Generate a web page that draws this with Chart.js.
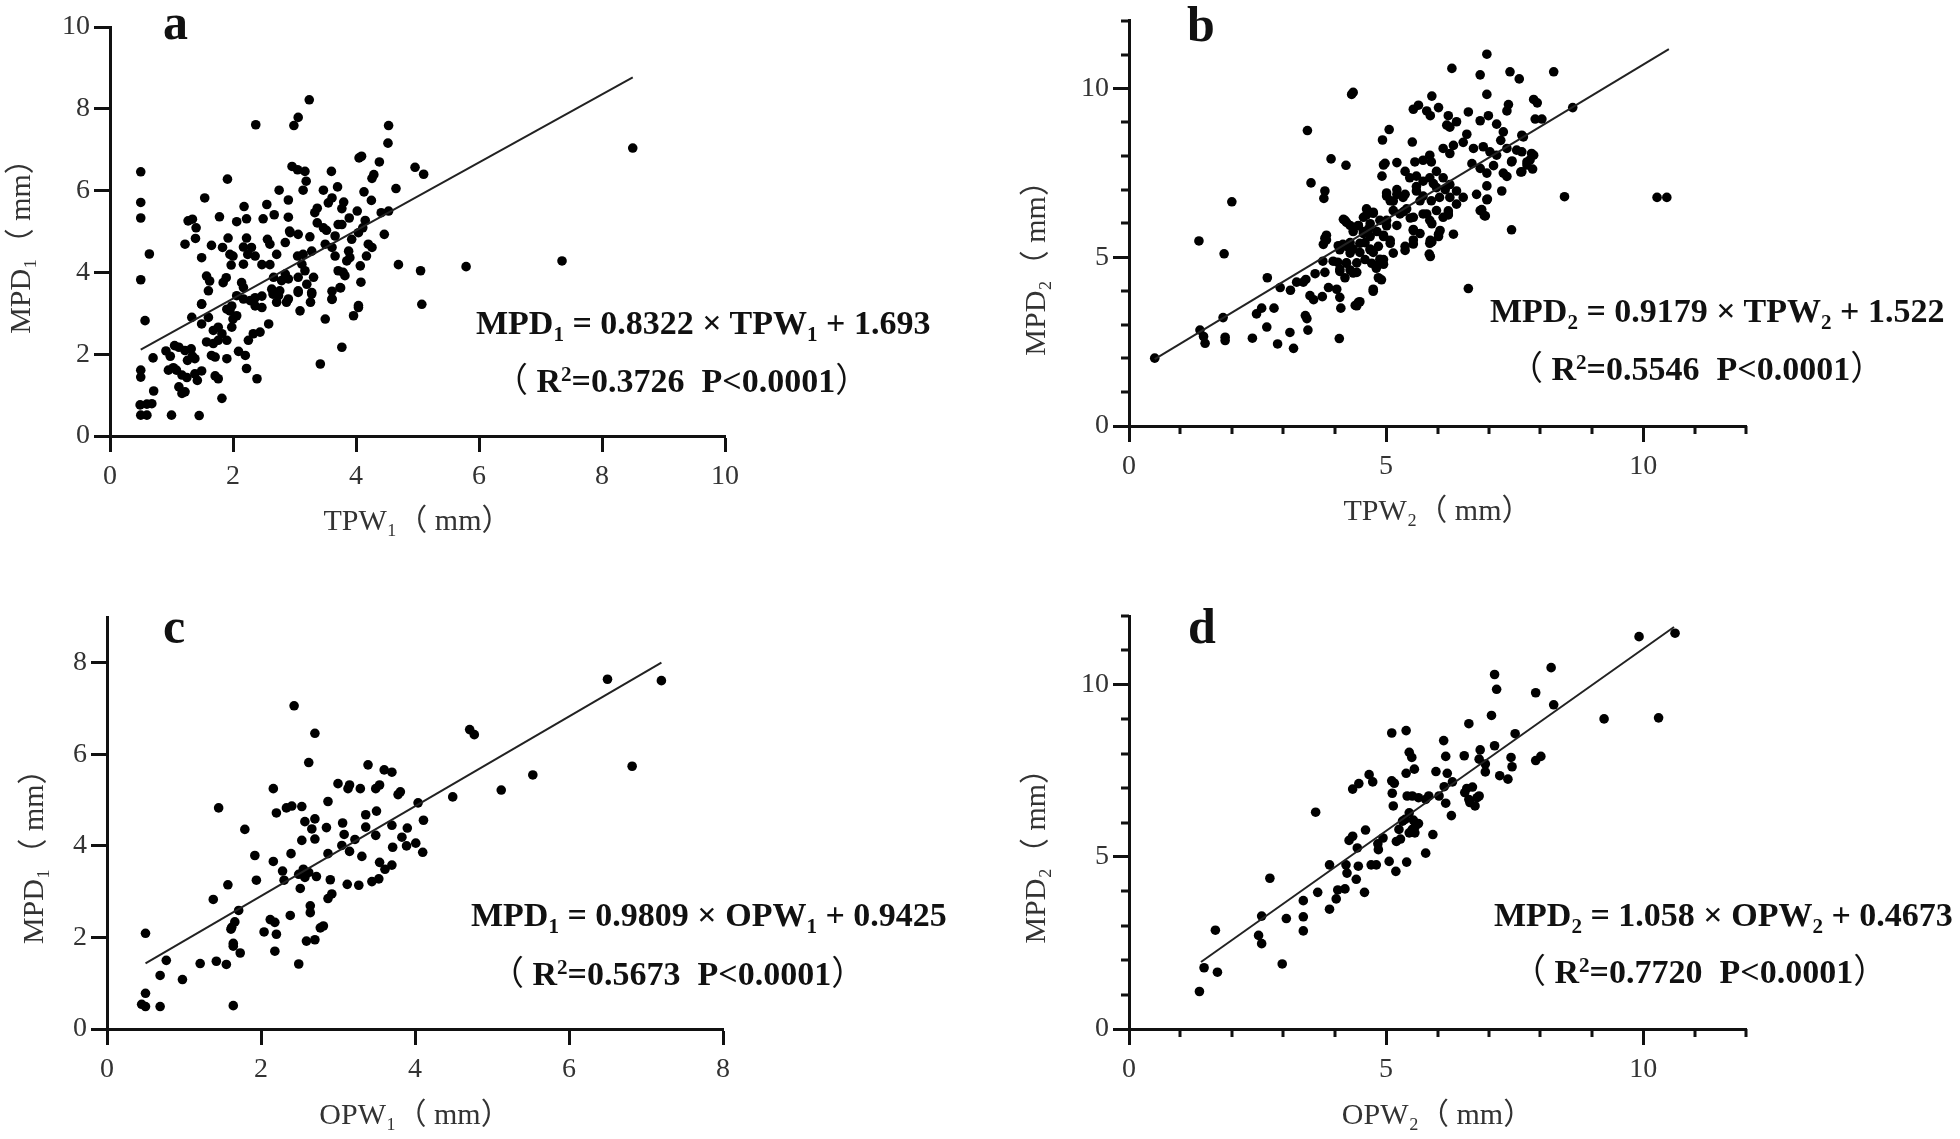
<!DOCTYPE html>
<html>
<head>
<meta charset="utf-8">
<script src="https://cdn.jsdelivr.net/npm/chart.js@4.4.1/dist/chart.umd.min.js"></script>
<style>
  body { margin: 0; background: #fff; }
  #page { position: relative; width: 1960px; height: 1139px; overflow: hidden; background: #fff; }
  .box { position: absolute; }
  .letter { position: absolute; font: bold 50px "Liberation Serif", serif; line-height: 50px; color: #111; }
  .eq { position: absolute; font: bold 34px "Liberation Serif", serif; line-height: 34px; white-space: nowrap; color: #111; }
  .eq sub, .eq sup { font-size: 0.62em; line-height: 0; }
  .eq sub { vertical-align: -7px; }
  .eq sup { vertical-align: 11px; }
  .eq .p { font-family: "Noto Sans CJK SC", sans-serif; font-weight: normal; line-height: 0; }
</style>
</head>
<body>
<div id="page">
  <div class="box" style="left:0;top:0;width:770px;height:560px"><canvas id="chartA" width="770" height="560"></canvas></div>
  <div class="box" style="left:1000px;top:0;width:790px;height:560px"><canvas id="chartB" width="790" height="560"></canvas></div>
  <div class="box" style="left:0;top:580px;width:770px;height:559px"><canvas id="chartC" width="770" height="559"></canvas></div>
  <div class="box" style="left:1000px;top:580px;width:790px;height:559px"><canvas id="chartD" width="790" height="559"></canvas></div>

  <div class="letter" style="left:163px;top:-3px">a</div>
  <div class="letter" style="left:1187px;top:-1px">b</div>
  <div class="letter" style="left:163px;top:601px">c</div>
  <div class="letter" style="left:1188px;top:601px">d</div>

  <div class="eq" style="left:476px;top:306px">MPD<sub>1</sub> = 0.8322 × TPW<sub>1</sub> + 1.693</div>
  <div class="eq" style="left:494px;top:364px"><span class="p">（</span> R<sup>2</sup>=0.3726&nbsp;&nbsp;P&lt;0.0001<span class="p">）</span></div>

  <div class="eq" style="left:1490px;top:294px">MPD<sub>2</sub> = 0.9179 × TPW<sub>2</sub> + 1.522</div>
  <div class="eq" style="left:1509px;top:352px"><span class="p">（</span> R<sup>2</sup>=0.5546&nbsp;&nbsp;P&lt;0.0001<span class="p">）</span></div>

  <div class="eq" style="left:471px;top:898px">MPD<sub>1</sub> = 0.9809 × OPW<sub>1</sub> + 0.9425</div>
  <div class="eq" style="left:490px;top:957px"><span class="p">（</span> R<sup>2</sup>=0.5673&nbsp;&nbsp;P&lt;0.0001<span class="p">）</span></div>

  <div class="eq" style="left:1494px;top:898px">MPD<sub>2</sub> = 1.058 × OPW<sub>2</sub> + 0.4673</div>
  <div class="eq" style="left:1512px;top:955px"><span class="p">（</span> R<sup>2</sup>=0.7720&nbsp;&nbsp;P&lt;0.0001<span class="p">）</span></div>
</div>

<script>
// TPW1 vs MPD1
const pointsA = [
  [3.24,8.22],[3.06,7.79],[2.99,7.59],[2.37,7.61],[4.53,7.59],[4.52,7.16],
  [0.50,6.46],[0.50,5.71],[0.50,5.33],[0.64,4.45],[0.50,3.82],
  [1.91,6.28],[1.54,5.82],[2.96,6.59],[3.05,6.51],[3.17,6.47],[3.19,6.23],[3.14,6.01],[2.75,6.01],[2.90,5.77],
  [3.60,6.47],[3.47,6.01],[3.70,6.09],[4.05,6.80],[4.09,6.84],[4.38,6.70],[4.29,6.39],[4.26,6.30],[4.13,5.97],[4.25,5.76],[4.65,6.05],[4.96,6.57],[5.10,6.40],
  [3.61,5.82],[3.55,5.70],[3.80,5.72],[3.77,5.56],[3.37,5.57],[3.33,5.46],[4.02,5.50],[3.89,5.33],[3.71,5.17],[3.77,5.17],[4.15,5.27],[4.41,5.46],[4.53,5.50],[4.46,4.93],
  [3.37,5.21],[3.47,5.09],[3.52,5.03],[4.11,5.09],[4.04,4.97],[3.93,4.81],[3.66,4.89],[3.25,4.87],
  [2.90,5.35],[2.92,5.01],[3.06,4.93],[2.67,5.41],[2.55,5.66],[2.49,5.31],[2.22,5.31],[2.18,5.61],[2.06,5.24],[1.78,5.36],
  [1.27,5.26],[1.34,5.30],[1.40,5.09],[1.39,4.83],[1.22,4.69],[1.65,4.66],[1.49,4.36],[1.92,4.84],[1.83,4.61],[1.95,4.44],[2.00,4.40],
  [2.22,4.84],[2.17,4.62],[2.30,4.61],[2.24,4.44],[2.36,4.40],[2.17,4.20],[1.97,4.18],[2.56,4.81],[2.60,4.69],
  [2.47,4.19],[2.60,4.19],[2.71,4.44],[2.85,4.73],[2.93,4.97],[3.05,4.40],[3.14,4.44],[3.28,4.52],[3.12,4.20],[3.17,4.04],[3.31,3.88],
  [3.50,4.69],[3.61,4.61],[3.66,4.40],[3.88,4.52],[3.85,4.28],[3.90,4.36],[4.07,4.16],[4.20,4.69],[4.26,4.61],[4.17,4.40],[4.69,4.19],[5.05,4.04],[4.08,3.76],
  [3.71,4.04],[3.79,4.00],[3.82,3.92],[3.75,3.62],[3.61,3.54],[3.61,3.34],
  [1.57,3.91],[1.62,3.79],[1.60,3.55],[1.84,3.75],[1.89,3.87],[2.14,3.75],[2.17,3.63],[1.49,3.22],
  [2.85,3.96],[2.90,3.84],[2.79,3.80],[3.06,3.88],[3.06,3.55],[3.20,3.71],[3.28,3.51],[2.66,3.88],[2.63,3.59],[2.74,3.43],[2.87,3.27],[2.36,3.38],[2.47,3.42],[3.26,3.27],[4.04,3.19],[5.07,3.22],
  [0.57,2.82],[0.50,1.61],[0.50,1.44],[0.70,1.91],[0.71,1.10],[0.49,0.76],[0.60,0.78],[0.68,0.79],[0.50,0.51],[0.60,0.51],[1.00,0.51],[1.45,0.50],[1.82,0.92],
  [0.91,2.08],[0.98,1.95],[1.05,2.21],[1.12,2.17],[1.22,2.09],[1.32,2.13],[1.34,1.95],
  [0.95,1.61],[1.03,1.67],[1.08,1.61],[1.17,1.49],[1.25,1.43],[1.12,1.20],[1.17,1.04],[1.22,1.08],
  [1.38,1.52],[1.42,1.36],[1.49,1.59],[1.26,1.85],[1.38,1.89],[1.71,1.47],[1.76,1.40],
  [1.57,2.30],[1.68,2.26],[1.71,1.93],[1.90,1.89],[1.65,1.97],
  [1.68,2.58],[1.76,2.66],[1.82,2.50],[1.90,2.34],[1.76,2.34],[1.49,2.74],[1.60,2.90],[1.33,2.90],[1.49,3.23],
  [1.98,2.66],[2.00,2.86],[2.06,2.94],[1.90,3.10],[1.95,3.06],[1.98,3.18],[2.09,2.07],[2.20,1.97],[2.22,1.65],[2.39,1.40],
  [2.25,2.34],[2.33,2.50],[2.44,2.54],[2.58,2.74],[2.06,3.43],[2.17,3.35],[2.28,3.31],[2.36,3.18],[2.47,3.14],
  [2.65,3.47],[2.76,3.55],[2.90,3.35],[2.71,3.27],[3.09,3.06],[3.28,3.47],[3.06,3.51],[3.50,2.86],[3.61,3.35],[3.74,3.63],[3.42,1.76],[3.77,2.17],[3.96,2.94],[4.04,3.14],
  [8.50,7.04],[7.35,4.28],[5.79,4.14]
];
// TPW2 vs MPD2
const pointsB = [
  [0.50,2.01],[1.36,5.48],[2.00,6.64],[1.85,5.10],[1.38,2.84],[1.45,2.65],[1.48,2.45],[1.83,3.21],[1.87,2.63],[1.87,2.53],
  [2.40,2.60],[2.68,2.93],[2.89,2.43],[3.20,2.30],[3.13,2.77],[3.48,2.84],[3.43,3.27],[3.46,3.18],[2.48,3.32],[2.58,3.49],[2.82,3.49],
  [2.69,4.39],[2.94,4.10],[3.14,4.02],[3.26,4.26],[3.44,4.34],[3.62,4.51],[3.52,3.86],[3.59,3.74],[3.76,3.83],[3.88,4.10],[4.04,4.05],
  [4.10,3.81],[4.12,3.49],[4.09,2.59],[4.10,4.58],[4.36,4.53],[4.20,4.39],[4.40,3.57],[4.49,3.68],[4.75,3.99],[4.85,4.39],
  [4.75,4.05],[4.46,3.66],[4.43,3.56],[3.39,4.26],[3.81,4.55],[4.43,4.55],[4.91,4.33],
  [3.77,4.88],[4.06,4.85],[3.81,5.56],[3.84,5.65],[4.23,4.82],[4.30,4.62],[4.81,4.67],[4.88,4.82],[4.72,4.82],
  [4.07,5.34],[4.16,5.38],[4.30,5.43],[4.36,5.24],[4.49,5.14],[4.59,5.43],[4.69,5.24],[4.17,6.12],[4.23,6.03],[4.46,5.93],[4.62,6.25],[4.75,6.30],
  [4.36,5.76],[4.56,5.76],[4.66,5.84],[4.82,5.76],[4.95,5.65],[4.75,5.14],[4.88,4.94],[4.95,4.79],
  [5.01,6.90],[5.21,7.00],[5.14,6.66],[5.37,6.86],[5.01,5.93],[5.08,5.50],[5.34,6.35],[5.47,6.16],[5.53,5.82],[5.37,5.20],[5.53,5.39],
  [5.66,6.67],[5.79,6.28],[5.89,5.99],[6.05,5.79],[5.86,5.50],[5.84,5.09],[5.59,7.09],[5.92,7.18],[6.15,7.00],[6.21,6.37],
  [6.96,11.01],[6.28,10.59],[6.83,10.40],[7.41,10.49],[7.59,10.28],[4.33,9.82],[4.36,9.88],[5.89,9.77],[6.96,9.82],[7.87,9.67],[7.94,9.57],[3.47,8.75],[5.06,8.78],
  [5.53,9.38],[5.63,9.50],[5.79,9.33],[5.86,9.19],[6.02,9.43],[6.21,9.19],[6.37,9.01],[6.18,8.91],[6.24,8.85],[6.60,9.30],[6.83,9.04],[6.99,9.19],[7.15,8.94],[7.35,9.33],[7.38,9.52],[7.28,8.71],[7.23,8.46],[7.64,8.61],[7.90,9.09],
  [4.93,8.47],[5.51,8.41],[3.93,7.91],[4.22,7.72],[3.54,7.20],[3.81,6.96],[3.79,6.74],[4.95,7.73],[4.98,7.78],[5.21,7.80],[4.92,7.40],
  [5.56,7.82],[5.72,7.87],[5.85,8.02],[5.88,7.82],[6.11,8.22],[6.24,8.07],[6.31,8.31],[6.50,8.40],[6.57,8.64],[6.70,8.22],[6.89,8.27],[7.02,8.12],[7.15,8.02],
  [7.35,8.22],[7.54,8.17],[7.64,8.12],[7.83,8.07],[7.74,7.82],[7.85,7.61],[7.44,7.82],[7.62,7.52],
  [7.87,8.02],[7.80,7.88],[7.74,7.73],[7.64,7.53],[7.45,7.85],[7.67,8.56],[8.03,9.09],
  [6.67,7.77],[6.83,7.63],[6.96,7.49],[7.09,7.71],[7.28,7.49],[7.35,7.39],[7.25,6.96],[6.96,7.11],[6.76,6.86],[6.97,6.72],[6.83,6.38],[6.91,6.23],[7.44,5.81],[6.60,4.07],[6.31,5.68],
  [6.96,6.70],[6.86,6.41],[6.93,6.22],[6.21,6.28],[6.02,5.61],[5.85,5.41],
  [6.21,6.25],[6.02,5.68],[5.89,5.45],[5.86,5.02],
  [5.37,7.54],[5.46,7.35],[5.59,7.40],[5.72,7.25],[5.85,7.35],[5.98,7.54],[6.11,7.35],[6.24,7.15],[6.37,6.96],[6.50,6.77],[6.24,6.77],[6.37,6.57],
  [5.98,7.06],[6.04,6.77],[5.88,6.67],[5.72,6.81],[5.59,6.96],[5.33,6.77],[5.21,6.86],[5.08,6.67],[5.01,6.81],
  [5.40,6.43],[5.53,6.18],[5.72,6.28],[5.85,6.09],[5.98,6.38],[6.11,6.18],[5.14,6.38],[5.27,6.28],[5.01,6.09],[5.21,5.94],
  [5.53,5.79],[5.66,5.70],[5.53,5.51],[5.37,5.32],
  [4.62,6.43],[4.75,6.33],[4.56,6.18],[4.69,5.99],[4.88,6.09],[4.20,6.09],[4.30,5.94],
  [4.46,5.94],[4.56,5.70],[4.69,5.61],[4.49,5.41],[4.69,5.22],[4.85,5.32],
  [4.95,5.61],[5.08,5.41],[5.14,5.12],[4.95,4.93],[4.82,4.74],[3.84,5.51],[3.78,5.38],[4.10,5.22],[4.23,5.32],[4.30,5.12],[3.97,4.88],[4.10,4.64],[4.23,4.83],[4.43,4.83],[4.59,4.93],
  [8.63,9.43],[8.26,10.49],[8.47,6.79],[10.27,6.77],[10.46,6.77]
];
// OPW1 vs MPD1
const pointsC = [
  [2.43,7.06],[2.70,6.46],[2.62,5.82],[4.71,6.54],[4.77,6.43],[5.53,5.55],[5.12,5.22],[4.49,5.07],[4.04,4.94],[4.11,4.56],[4.10,3.86],[4.01,4.06],[3.89,4.00],
  [3.83,4.19],[3.90,4.39],[3.70,4.45],[3.71,3.97],[3.70,3.58],[3.61,3.49],[3.54,3.64],[3.53,3.28],[3.44,3.22],[3.81,5.18],[3.78,5.12],[3.60,5.66],[3.70,5.61],
  [3.39,5.77],[3.54,5.33],[3.49,5.25],[3.50,4.76],[3.49,4.23],[3.36,4.68],[3.36,4.41],[3.31,3.77],[3.29,5.25],[3.15,5.33],[3.13,5.25],[3.00,5.36],[2.87,4.97],
  [3.06,4.50],[2.85,4.40],[3.08,4.25],[3.22,4.14],[3.05,4.01],[3.15,3.88],[2.87,3.83],[3.27,3.14],[3.12,3.16],[2.90,3.26],[2.92,2.95],[2.87,2.85],[2.81,2.25],
  [2.77,2.21],[2.70,1.95],[2.59,1.92],[2.49,1.42],[2.64,2.54],[2.64,2.69],[2.38,2.48],[2.51,3.07],[2.49,3.38],[2.55,3.49],[2.62,3.42],[2.72,3.33],[2.57,3.31],
  [2.53,4.12],[2.66,4.37],[2.70,4.15],[2.57,4.53],[2.70,4.59],[2.28,3.45],[2.30,3.25],[2.39,3.83],[2.16,3.66],[1.94,3.25],[1.92,3.79],[2.16,5.25],[2.20,4.72],
  [2.33,4.83],[2.40,4.87],[2.53,4.86],[1.79,4.36],[1.45,4.83],[1.57,3.15],[1.38,2.83],[1.71,2.59],[1.66,2.34],[1.61,2.18],[1.62,2.22],[1.64,1.87],[1.64,1.81],
  [1.73,1.66],[2.12,2.39],[2.18,2.33],[2.20,2.07],[2.18,1.70],[2.04,2.12],[0.50,2.09],[0.77,1.50],[0.69,1.17],[0.98,1.08],[1.21,1.43],[1.42,1.48],[1.55,1.41],
  [1.64,0.51],[0.69,0.49],[0.50,0.78],[0.45,0.54],[0.50,0.49],[6.50,7.64],[6.82,5.74],[7.20,7.61]
];
// OPW2 vs MPD2
const pointsD = [
  [1.37,1.09],[1.46,1.78],[1.72,1.65],[1.68,2.87],[2.52,2.72],[2.58,2.48],[2.58,3.28],[2.74,4.38],[2.98,1.89],[3.06,3.21],[3.39,3.73],[3.39,3.26],[3.39,2.85],
  [3.63,6.30],[3.67,3.97],[3.90,4.77],[3.90,3.48],[4.03,3.78],[4.06,4.04],[4.20,4.07],[4.22,4.77],[4.24,4.53],[4.28,5.48],[4.35,5.60],[4.44,5.26],[4.46,4.73],
  [4.42,4.35],[4.58,3.97],[4.60,5.78],[4.35,6.97],[4.47,7.13],[4.67,7.39],[4.74,7.18],[4.84,5.38],[4.94,5.55],[4.81,4.77],[4.71,4.77],[4.85,5.21],[5.06,4.87],
  [5.19,4.58],[5.20,5.45],[5.28,5.52],[5.25,5.80],[5.32,6.04],[5.37,6.09],[5.53,6.07],[5.40,4.85],[5.45,6.28],[5.51,5.80],[5.57,5.89],[5.63,5.97],[5.45,5.70],
  [5.56,5.70],[5.77,5.11],[5.91,5.65],[5.12,6.85],[5.14,6.48],[5.11,7.21],[5.16,7.14],[5.11,8.60],[5.39,8.67],[5.45,8.04],[5.50,7.89],[5.55,7.55],[5.39,7.43],
  [5.41,6.77],[5.51,6.77],[5.63,6.72],[5.77,6.67],[5.83,6.77],[6.03,6.77],[5.97,7.48],[6.12,8.38],[6.16,7.92],[6.19,7.43],[6.29,7.18],[6.13,7.04],[6.16,6.56],
  [6.27,6.20],[6.52,7.94],[6.61,8.87],[6.53,6.87],[6.57,6.99],[6.68,7.03],[6.61,6.67],[6.63,6.58],[6.77,6.72],[6.81,6.77],[6.73,6.48],[6.83,8.11],[6.81,7.84],
  [6.93,7.70],[6.93,7.47],[7.05,9.11],[7.11,10.30],[7.15,9.87],[7.11,8.23],[7.21,7.36],[7.37,7.26],[7.43,7.89],[7.45,7.62],[7.51,8.58],[7.91,7.80],[8.01,7.92],
  [7.91,9.77],[8.21,10.50],[8.26,9.42],[9.24,9.01],[9.92,11.40],[10.30,9.04],[10.62,11.50]
];

// fitted lines (ends)
const fitA = [[0.5, 2.109], [8.5, 8.767]];
const fitB = [[0.5, 1.981], [10.5, 11.16]];
const fitC = [[0.5, 1.433], [7.2, 8.005]];
const fitD = [[1.4, 1.948], [10.6, 11.68]];

const FONT = '"Liberation Serif", "Noto Sans CJK SC", serif';
const INK = '#111';
const TEXT = '#333';

// short ticks between the labelled ones (GraphPad style)
const minorTicks = {
  id: 'minorTicks',
  afterDraw(chart, args, opts) {
    if (!opts.major) return;
    const { ctx, chartArea, scales } = chart;
    ctx.save();
    ctx.strokeStyle = INK;
    ctx.lineWidth = 3;
    ctx.beginPath();
    scales.x.ticks.forEach(t => {
      if (t.value % opts.major === 0) return;
      const px = Math.round(scales.x.getPixelForValue(t.value));
      ctx.moveTo(px, chartArea.bottom);
      ctx.lineTo(px, chartArea.bottom + 8);
    });
    scales.y.ticks.forEach(t => {
      if (t.value % opts.major === 0) return;
      const py = Math.round(scales.y.getPixelForValue(t.value));
      ctx.moveTo(chartArea.left, py);
      ctx.lineTo(chartArea.left - 8, py);
    });
    ctx.stroke();
    ctx.restore();
  }
};

function axis(o) {
  return {
    type: 'linear',
    min: 0,
    max: o.max,
    ticks: {
      stepSize: o.step,
      includeBounds: false,
      autoSkip: false,
      maxRotation: 0,
      padding: o.horizontal ? 8 : 4,
      color: TEXT,
      font: { family: FONT, size: 28 },
      callback: v => (v % o.every === 0 ? String(v) : '')
    },
    grid: {
      drawOnChartArea: false,
      drawTicks: true,
      tickLength: 16,
      tickWidth: 3,
      tickColor: c => (c.tick && c.tick.value % o.every === 0 ? INK : 'rgba(0,0,0,0)')
    },
    border: { display: true, color: INK, width: 3 },
    title: {
      display: true,
      text: o.title,
      color: TEXT,
      font: { family: FONT, size: 30 },
      padding: o.titlePad
    },
    afterFit: s => {
      if (o.horizontal) s.height = o.size; else s.width = o.size;
    }
  };
}

function makeChart(id, g) {
  return new Chart(document.getElementById(id), {
    type: 'scatter',
    data: {
      datasets: [
        {
          data: g.fit.map(p => ({ x: p[0], y: p[1] })),
          showLine: true,
          borderColor: '#222',
          borderWidth: 2,
          pointRadius: 0,
          clip: false
        },
        {
          data: g.points.map(p => ({ x: p[0], y: p[1] })),
          pointRadius: 4.8,
          pointBackgroundColor: '#000',
          pointBorderWidth: 0,
          clip: false
        }
      ]
    },
    options: {
      responsive: false,
      animation: false,
      events: [],
      layout: { padding: g.pad },
      plugins: {
        legend: { display: false },
        tooltip: { enabled: false },
        minorTicks: { major: g.major }
      },
      scales: {
        x: axis({ horizontal: true, max: g.xMax, step: g.xStep, every: g.xEvery, title: g.xTitle, titlePad: { top: 0, bottom: g.xTitlePad }, size: g.xSize }),
        y: axis({ horizontal: false, max: g.yMax, step: g.yStep, every: g.yEvery, title: g.yTitle, titlePad: { top: g.yTitlePad, bottom: 0 }, size: g.ySize })
      }
    },
    plugins: [minorTicks]
  });
}

// trailing spaces push the rotated y titles down a little, as in the original figure
makeChart('chartA', {
  points: pointsA, fit: fitA, pad: { top: 27, right: 45, left: 0, bottom: 0 },
  xMax: 10, xStep: 2, xEvery: 2, yMax: 10, yStep: 2, yEvery: 2, major: 0,
  xTitle: 'TPW₁（ mm）', yTitle: 'MPD₁（ mm）  ',
  xTitlePad: 20, yTitlePad: 4, xSize: 124, ySize: 110
});
makeChart('chartB', {
  points: pointsB, fit: fitB, pad: { top: 13, right: 44, left: 0, bottom: 0 },
  xMax: 12, xStep: 1, xEvery: 5, yMax: 12, yStep: 1, yEvery: 5, major: 5,
  xTitle: 'TPW₂（ mm）', yTitle: 'MPD₂（ mm）' + ' '.repeat(10),
  xTitlePad: 30, yTitlePad: 19, xSize: 134, ySize: 129
});
makeChart('chartC', {
  points: pointsC, fit: fitC, pad: { top: 37, right: 47, left: 0, bottom: 0 },
  xMax: 8, xStep: 2, xEvery: 2, yMax: 9, yStep: 2, yEvery: 2, major: 0,
  xTitle: 'OPW₁（ mm）', yTitle: 'MPD₁（ mm）' + ' '.repeat(7),
  xTitlePad: 5, yTitlePad: 17, xSize: 110, ySize: 107
});
makeChart('chartD', {
  points: pointsD, fit: fitD, pad: { top: 36, right: 44, left: 0, bottom: 0 },
  xMax: 12, xStep: 1, xEvery: 5, yMax: 12, yStep: 1, yEvery: 5, major: 5,
  xTitle: 'OPW₂（ mm）', yTitle: 'MPD₂（ mm）' + ' '.repeat(7),
  xTitlePad: 5, yTitlePad: 19, xSize: 110, ySize: 129
});
</script>
</body>
</html>
